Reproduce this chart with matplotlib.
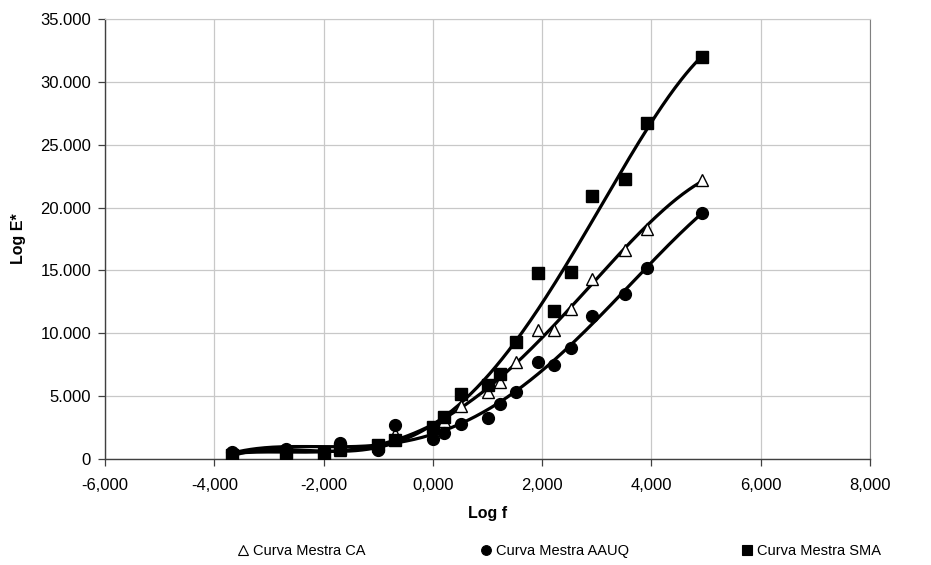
import numpy as np
import matplotlib
matplotlib.use("Agg")
import matplotlib.pyplot as plt
from matplotlib.ticker import FuncFormatter, MultipleLocator
from matplotlib.lines import Line2D

plt.rcParams['font.family'] = ['Liberation Sans', 'DejaVu Sans']

# ---- data (log f, E*) ----
logf = [-3.68, -2.68, -2.00, -1.70, -1.00, -0.70, 0.00, 0.21, 0.52, 1.00, 1.22,
        1.52, 1.93, 2.21, 2.52, 2.92, 3.52, 3.92, 4.92]
e_ca = [400, 600, 500, 700, 1000, 2000, 2500, 3000, 4200, 5350, 6100,
        7700, 10300, 10300, 11900, 14350, 16600, 18300, 22200]
e_aauq = [580, 770, 500, 1300, 750, 2700, 1570, 2100, 2760, 3300, 4370,
          5350, 7700, 7500, 8850, 11350, 13150, 15200, 19550]
e_sma = [350, 500, 400, 800, 1100, 1500, 2570, 3370, 5170, 5900, 6800,
         9330, 14770, 11800, 14850, 20900, 22300, 26750, 31950]

labels = ["Curva Mestra CA", "Curva Mestra AAUQ", "Curva Mestra SMA"]
xticks = [-6, -4, -2, 0, 2, 4, 6, 8]

fig = plt.figure(figsize=(9.31, 5.65), dpi=100)
ax = fig.add_axes([105/931, 1-459/565, (870-105)/931, (459-19)/565])

x = np.array(logf)
xs = np.linspace(x.min(), x.max(), 300)

series = [(e_ca, '^', 'white', 8), (e_aauq, 'o', 'black', 8.5), (e_sma, 's', 'black', 9)]
handles = []
for (ys, mk, fc, ms), lab in zip(series, labels):
    y = np.array(ys, dtype=float)
    coef = np.polyfit(x, y, 4)
    ax.plot(xs, np.polyval(coef, xs), color='black', lw=2.3, zorder=3)
    ax.plot(x, y, linestyle='none', marker=mk, markersize=ms, markerfacecolor=fc,
            markeredgecolor='black', markeredgewidth=1.0, zorder=4)
    handles.append(Line2D([], [], linestyle='none', marker=mk, markersize=7,
                          markerfacecolor=fc, markeredgecolor='black', markeredgewidth=0.8))

ax.set_xlim(-6, 8)
ax.set_ylim(0, 35000)
ax.set_xticks(xticks)
ax.yaxis.set_major_locator(MultipleLocator(5000))

def fx(v, p):
    s = f"{v:.3f}".replace('.', ',')
    if s.startswith('-0,000'):
        s = '0,000'
    return s

def fy(v, p):
    if abs(v) < 1e-9:
        return "0"
    return f"{int(round(v)):,}".replace(',', '.')

ax.xaxis.set_major_formatter(FuncFormatter(fx))
ax.yaxis.set_major_formatter(FuncFormatter(fy))

ax.grid(True, color='#c8c8c8', lw=0.9)
ax.set_axisbelow(True)
for s in ['left', 'bottom']:
    ax.spines[s].set_color('#404040')
    ax.spines[s].set_linewidth(1.0)
ax.spines['right'].set_color('#808080')
ax.spines['top'].set_color('#c8c8c8')
ax.tick_params(axis='both', direction='out', length=5, width=0.9, color='#404040',
               labelsize=12, pad=5)
ax.tick_params(axis='x', pad=9)

ax.set_xlabel("Log f", fontsize=11.5, fontweight='bold', labelpad=9)
ax.set_ylabel("Log E*", fontsize=11.5, fontweight='bold', labelpad=10)

xpos = [237/931, 480/931, 741/931]
for h, lab, xp in zip(handles, labels, xpos):
    fig.legend([h], [lab], loc='center left', bbox_to_anchor=(xp, 1-551/565),
               frameon=False, fontsize=10.5, handlelength=0.8, handletextpad=0.3,
               borderaxespad=0, borderpad=0)

fig.savefig("out.png", dpi=100)
